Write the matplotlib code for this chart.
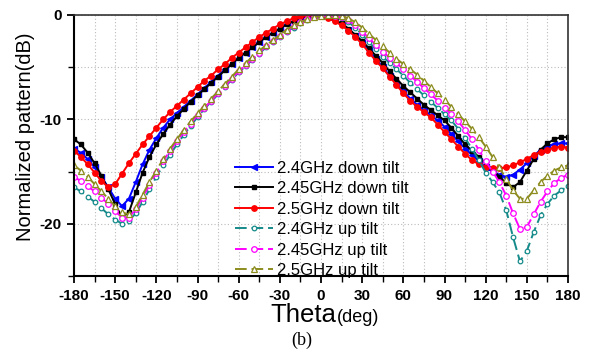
import matplotlib
matplotlib.use("Agg")
import matplotlib.pyplot as plt
from matplotlib.ticker import MultipleLocator

theta = list(range(-180, 181, 5))

down_24 = [-12.8, -13.2, -13.8, -14.6, -15.5, -16.5, -17.6, -18.3, -17.6, -16.0,
           -14.3, -12.9, -11.8, -10.8, -10.0, -9.4, -8.8, -8.2, -7.6, -7.0,
           -6.4, -5.8, -5.2, -4.7, -4.1, -3.6, -3.1, -2.6, -2.1, -1.7,
           -1.3, -0.9, -0.6, -0.3, -0.1, 0.0, -0.1, -0.2, -0.5, -0.9,
           -1.4, -2.0, -2.7, -3.4, -4.2, -5.0, -5.8, -6.6, -7.3, -8.0,
           -8.6, -9.1, -9.6, -10.1, -10.7, -11.4, -12.1, -12.8, -13.4, -14.0,
           -14.6, -15.0, -15.3, -15.5, -15.3, -14.8, -14.2, -13.5, -12.9, -12.6,
           -12.4, -12.3, -12.3]

down_245 = [-11.9, -12.4, -13.2, -14.2, -15.4, -16.7, -18.1, -19.4, -18.9, -17.0,
            -15.1, -13.6, -12.4, -11.4, -10.5, -9.7, -9.0, -8.3, -7.7, -7.1,
            -6.5, -5.9, -5.3, -4.7, -4.1, -3.6, -3.1, -2.6, -2.1, -1.7,
            -1.3, -0.9, -0.6, -0.3, -0.1, 0.0, -0.1, -0.2, -0.5, -0.8,
            -1.3, -1.9, -2.5, -3.2, -3.9, -4.6, -5.4, -6.1, -6.8, -7.4,
            -8.0, -8.6, -9.1, -9.6, -10.1, -10.8, -11.6, -12.4, -13.0, -13.6,
            -14.2, -14.8, -15.5, -16.1, -16.5, -16.0, -14.9, -13.8, -12.9, -12.3,
            -11.9, -11.7, -11.7]

down_25 = [-13.0, -13.6, -14.3, -15.1, -15.9, -16.5, -16.2, -15.2, -14.2, -13.3,
           -12.4, -11.6, -10.8, -10.0, -9.3, -8.7, -8.1, -7.5, -6.9, -6.3,
           -5.8, -5.2, -4.7, -4.1, -3.6, -3.1, -2.6, -2.1, -1.7, -1.3,
           -0.9, -0.6, -0.3, -0.1, 0.0, 0.0, -0.1, -0.3, -0.6, -1.0,
           -1.5, -2.1, -2.8, -3.6, -4.4, -5.1, -5.9, -6.7, -7.5, -8.2,
           -8.8, -9.3, -9.8, -10.5, -11.2, -11.9, -12.6, -13.3, -13.9, -14.3,
           -14.6, -14.7, -14.7, -14.6, -14.4, -14.1, -13.8, -13.4, -13.1, -12.9,
           -12.7, -12.6, -12.7]

up_24 = [-16.5, -16.9, -17.4, -17.9, -18.5, -19.1, -19.6, -20.0, -19.7, -19.0,
         -17.9, -16.7, -15.5, -14.4, -13.4, -12.4, -11.5, -10.6, -9.8, -9.0,
         -8.3, -7.6, -6.9, -6.2, -5.5, -4.9, -4.3, -3.7, -3.1, -2.6,
         -2.1, -1.6, -1.2, -0.8, -0.5, -0.2, -0.1, 0.0, -0.1, -0.3,
         -0.7, -1.2, -1.9, -2.6, -3.3, -4.0, -4.6, -5.2, -5.8, -6.5,
         -7.1, -7.7, -8.3, -8.9, -9.5, -10.1, -10.9, -11.8, -12.8, -13.9,
         -15.1, -16.0, -17.0, -18.7, -21.3, -23.6, -22.6, -20.8, -19.2, -18.1,
         -17.3, -16.8, -16.4]

up_245 = [-15.5, -15.9, -16.4, -16.9, -17.5, -18.1, -18.8, -19.4, -19.4, -18.6,
          -17.5, -16.3, -15.1, -14.0, -13.0, -12.1, -11.2, -10.4, -9.6, -8.9,
          -8.2, -7.5, -6.8, -6.1, -5.4, -4.8, -4.2, -3.6, -3.0, -2.5,
          -2.0, -1.5, -1.1, -0.7, -0.4, -0.2, 0.0, 0.0, -0.1, -0.2,
          -0.5, -1.0, -1.6, -2.2, -2.9, -3.5, -4.1, -4.6, -5.2, -5.8,
          -6.4, -7.0, -7.6, -8.2, -8.9, -9.5, -10.2, -11.0, -11.9, -12.9,
          -14.0, -15.0, -16.0, -17.3, -19.0, -20.5, -20.3, -19.1, -17.9, -16.9,
          -16.1, -15.6, -15.3]

up_25 = [-14.4, -14.9, -15.5, -16.2, -16.9, -17.6, -18.3, -18.9, -19.1, -18.4,
         -17.2, -16.0, -14.9, -13.8, -12.8, -11.9, -11.0, -10.2, -9.4, -8.7,
         -8.0, -7.3, -6.6, -5.9, -5.2, -4.6, -4.0, -3.4, -2.9, -2.4,
         -1.9, -1.4, -1.0, -0.7, -0.4, -0.2, -0.1, 0.0, 0.0, -0.1,
         -0.3, -0.7, -1.2, -1.8, -2.4, -3.0, -3.6, -4.2, -4.7, -5.2,
         -5.7, -6.3, -6.9, -7.5, -8.1, -8.8, -9.5, -10.2, -10.9, -11.7,
         -12.6, -13.6, -14.6, -15.7, -16.8, -17.6, -17.6, -16.8, -16.0, -15.4,
         -14.9, -14.6, -14.4]

labels = ["2.4GHz down tilt", "2.45GHz down tilt", "2.5GHz down tilt",
          "2.4GHz up tilt", "2.45GHz up tilt", "2.5GHz up tilt"]
series = [down_24, down_245, down_25, up_24, up_245, up_25]
colors = ["#0000FF", "#000000", "#FF0000", "#158A8A", "#FF00FF", "#8C8C1E"]
markers = ["<", "s", "o", "o", "o", "^"]
msizes = [4.0, 3.2, 3.9, 3.3, 4.0, 4.0]
dashed = [False, False, False, True, True, True]

xticks = [-180, -150, -120, -90, -60, -30, 0, 30, 60, 90, 120, 150, 180]
yticks = [0, -10, -20]

plt.rcParams["font.family"] = ["Liberation Sans", "DejaVu Sans"]
plt.rcParams["axes.unicode_minus"] = False

fig = plt.figure(figsize=(5.92, 3.56), dpi=100)
ax = fig.add_axes([74 / 592, 80 / 356, 494 / 592, 261 / 356])

for y, lab, c, m, ms, d in zip(series, labels, colors, markers, msizes, dashed):
    if d:
        ax.plot(theta, y, color=c, lw=1.4, dashes=(6, 2.5), marker=m, ms=ms,
                mfc="white", mec=c, mew=0.9, label=lab)
    else:
        ax.plot(theta, y, color=c, lw=1.4, marker=m, ms=ms, mfc=c, mec=c,
                label=lab)

ax.set_xlim(-180, 180)
ax.set_ylim(-25, 0)
ax.set_xticks(xticks)
ax.set_yticks(yticks)
ax.xaxis.set_minor_locator(MultipleLocator(15))
ax.yaxis.set_minor_locator(MultipleLocator(5))
ax.grid(True, which="both", color="#bbbbbb", ls=(0, (1, 2)), lw=0.8)
ax.set_axisbelow(True)
ax.tick_params(which="major", direction="out", length=5, width=1.3,
               labelsize=11, pad=4)
ax.tick_params(which="minor", direction="out", length=4, width=1.0)
for lbl in ax.get_xticklabels() + ax.get_yticklabels():
    lbl.set_fontweight("bold")
for s in ["left", "bottom"]:
    ax.spines[s].set_linewidth(1.5)
for s in ["top", "right"]:
    ax.spines[s].set_linewidth(1.2)
    ax.spines[s].set_color("#333333")

ax.set_ylabel("Normalized pattern(dB)", fontsize=14.5)
ax.yaxis.set_label_coords(-0.079, 0.533)
fig.text(336 / 592, (356 - 322) / 356, "Theta", fontsize=18.5, ha="right",
         va="baseline")
fig.text(337 / 592, (356 - 322) / 356, "(deg)", fontsize=13, ha="left",
         va="baseline")
fig.text(0.51, 0.03, "(b)", fontsize=13, ha="center", va="baseline",
         family=["Liberation Serif", "DejaVu Serif"])

ax.legend(loc="upper left", bbox_to_anchor=(0.326, 0.442), frameon=False,
          fontsize=12, handlelength=2.3, handletextpad=0.2, labelspacing=0.33,
          borderpad=0, borderaxespad=0)

fig.savefig("out.png", dpi=100)
